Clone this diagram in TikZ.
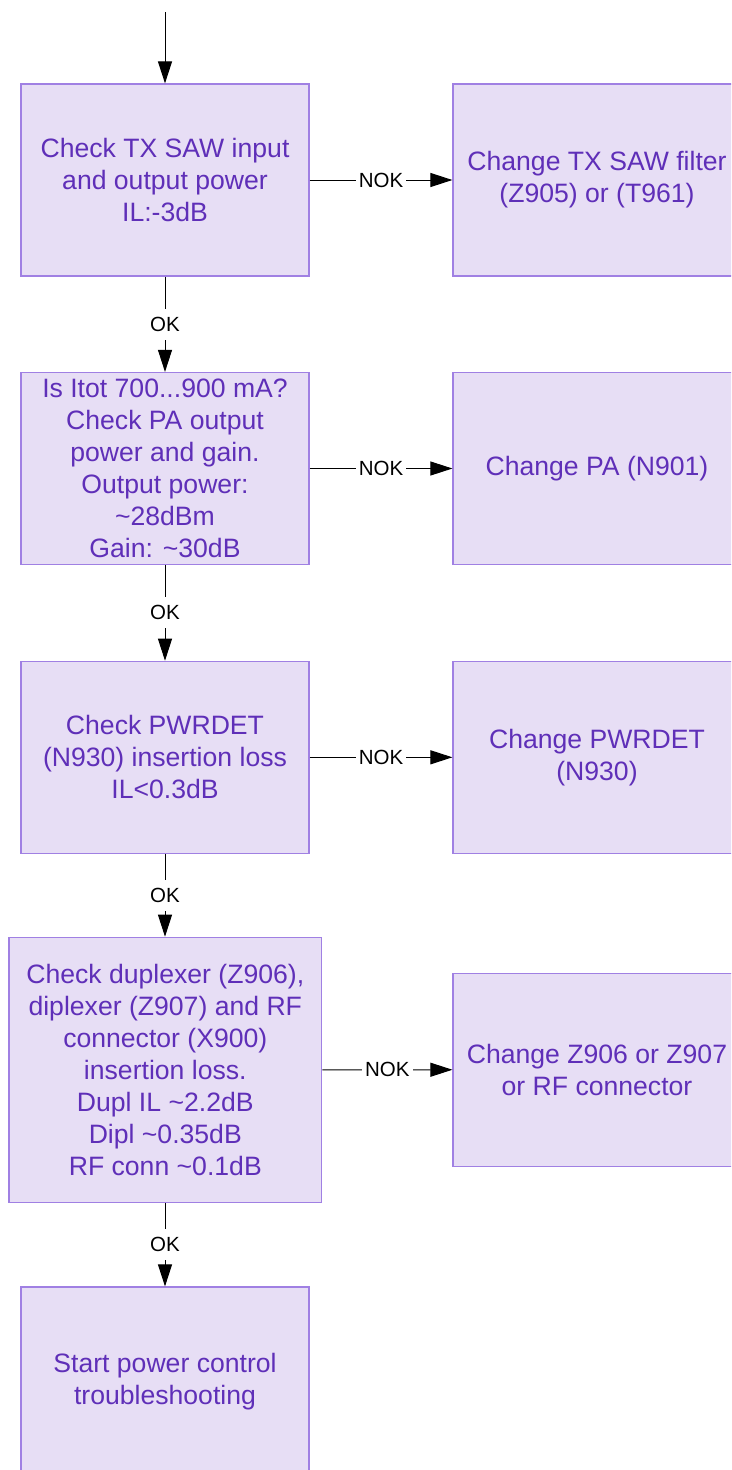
\documentclass[tikz,border=0pt]{standalone}
\usepackage{fontspec}
\setmainfont{Liberation Sans}
\usetikzlibrary{arrows.meta}
\definecolor{boxfill}{HTML}{E7DEF5}
\definecolor{boxline}{HTML}{A080E3}
\definecolor{boxtext}{HTML}{5F2FB8}
\tikzset{
  flowbox/.style={draw=boxline, fill=boxfill, line width=1.2pt, inner sep=0pt,
    align=center, text=boxtext, font=\fontsize{26.6}{32}\selectfont,
    minimum width=288pt, minimum height=192pt},
  arr/.style={line width=1pt, -{Triangle[length=22pt,width=14pt]}},
  lbl/.style={fill=white, inner xsep=3pt, inner ysep=0pt, minimum height=31pt,
    font=\fontsize{20.5}{24}\selectfont, text=black}
}
\begin{document}
\begin{tikzpicture}[x=1pt,y=-1pt]
\useasboundingbox (0,0) rectangle (731,1470);
\clip (0,0) rectangle (731,1470);
\node[flowbox] (b1) at (165,180) {Check TX SAW input\\and output power\\IL:-3dB};
\node[flowbox] (r1) at (597,180) {Change TX SAW filter\\(Z905) or (T961)};
\node[flowbox] (b2) at (165,468.5) {Is Itot 700...900 mA?\\Check PA output\\power and gain.\\Output power:\\\textasciitilde28dBm\\Gain: \textasciitilde30dB};
\node[flowbox] (r2) at (597,468.5) {Change PA (N901)};
\node[flowbox] (b3) at (165,757.3) {Check PWRDET\\(N930) insertion loss\\IL<0.3dB};
\node[flowbox] (r3) at (597,757.3) {Change PWRDET\\(N930)};
\node[flowbox, minimum width=312.7pt, minimum height=265pt] (b4) at (165.3,1069.8) {Check duplexer (Z906),\\diplexer (Z907) and RF\\connector (X900)\\insertion loss.\\Dupl IL \textasciitilde2.2dB\\Dipl \textasciitilde0.35dB\\RF conn \textasciitilde0.1dB};
\node[flowbox, minimum height=193pt] (r4) at (597,1069.7) {Change Z906 or Z907\\or RF connector};
\node[flowbox, minimum height=190pt] (b5) at (165,1382) {Start power control\\troubleshooting};
\coordinate (start) at (165,12);
\draw[arr] (start) -- (b1.north);
\draw[arr] (b1) -- node[lbl]{OK} (b2);
\draw[arr] (b2) -- node[lbl]{OK} (b3);
\draw[arr] (b3.south) -- node[lbl]{OK} (b4.north -| b3.south);
\draw[arr] (b4.south -| b5.north) -- node[lbl]{OK} (b5.north);
\draw[arr] (b1) -- node[lbl]{NOK} (r1);
\draw[arr] (b2) -- node[lbl]{NOK} (r2);
\draw[arr] (b3) -- node[lbl]{NOK} (r3);
\draw[arr] (b4) -- node[lbl]{NOK} (r4);
\end{tikzpicture}
\end{document}
